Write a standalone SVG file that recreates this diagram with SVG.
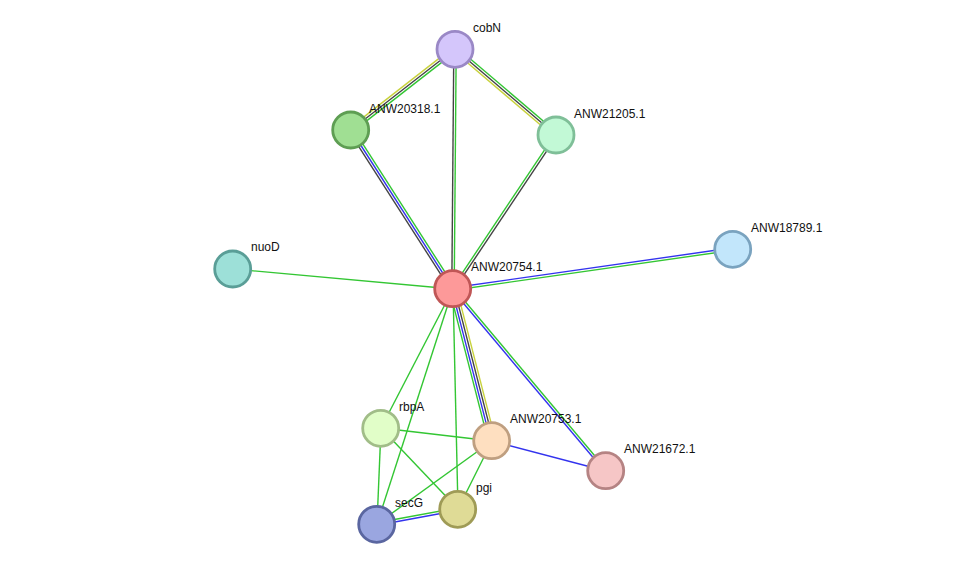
<svg xmlns="http://www.w3.org/2000/svg" width="975" height="570" viewBox="0 0 975 570">
<style>
.e{stroke-width:1.4;fill:none}
.g{stroke:#33c633}
.b{stroke:#3333ee}
.k{stroke:#444444}
.y{stroke:#c8d23c}
.n{stroke-width:2.8}
text{font-family:"Liberation Sans",Arial,sans-serif;font-size:12px;fill:#111}
</style>
<rect width="975" height="570" fill="#ffffff"/>
<g id="connectors">
<line class="e y" x1="453.5" y1="47.1" x2="349.5" y2="128.1"/>
<line class="e k" x1="455" y1="49" x2="351" y2="130"/>
<line class="e g" x1="456.5" y1="50.9" x2="352.5" y2="131.9"/>
<line class="e k" x1="453.8" y1="49" x2="451.8" y2="289"/>
<line class="e g" x1="456.2" y1="49" x2="454.2" y2="289"/>
<line class="e g" x1="456.6" y1="47.2" x2="557.6" y2="133.2"/>
<line class="e k" x1="455" y1="49" x2="556" y2="135"/>
<line class="e y" x1="453.4" y1="50.8" x2="554.4" y2="136.8"/>
<line class="e k" x1="349" y1="131.3" x2="451" y2="290.3"/>
<line class="e b" x1="351" y1="130" x2="453" y2="289"/>
<line class="e g" x1="353" y1="128.7" x2="455" y2="287.7"/>
<line class="e g" x1="555" y1="134.3" x2="452" y2="288.3"/>
<line class="e k" x1="557" y1="135.7" x2="454" y2="289.7"/>
<line class="e g" x1="233" y1="269" x2="453" y2="289"/>
<line class="e b" x1="732.8" y1="247.8" x2="452.8" y2="287.8"/>
<line class="e g" x1="733.2" y1="250.2" x2="453.2" y2="290.2"/>
<line class="e g" x1="449.5" y1="289.9" x2="488.5" y2="441.9"/>
<line class="e b" x1="451.8" y1="289.3" x2="490.8" y2="441.3"/>
<line class="e k" x1="454.2" y1="288.7" x2="493.2" y2="440.7"/>
<line class="e y" x1="456.5" y1="288.1" x2="495.5" y2="440.1"/>
<line class="e g" x1="453.9" y1="288.2" x2="606.9" y2="470.2"/>
<line class="e b" x1="452.1" y1="289.8" x2="605.1" y2="471.8"/>
<line class="e g" x1="381" y1="428" x2="453" y2="289"/>
<line class="e g" x1="377" y1="524" x2="453" y2="289"/>
<line class="e g" x1="458" y1="509" x2="453" y2="289"/>
<line class="e g" x1="381" y1="428" x2="492" y2="441"/>
<line class="e g" x1="381" y1="428" x2="377" y2="524"/>
<line class="e g" x1="381" y1="428" x2="458" y2="509"/>
<line class="e g" x1="492" y1="441" x2="377" y2="524"/>
<line class="e g" x1="492" y1="441" x2="458" y2="509"/>
<line class="e b" x1="492" y1="441" x2="606" y2="471"/>
<line class="e g" x1="376.8" y1="522.8" x2="457.8" y2="507.8"/>
<line class="e b" x1="377.2" y1="525.2" x2="458.2" y2="510.2"/>
</g>
<g id="cobN"><circle class="n" cx="455" cy="49.3" r="18" fill="#d4c6fb" stroke="#9a88c6"/><text x="473" y="32">cobN</text></g>
<g id="ANW20318.1"><circle class="n" cx="350.7" cy="130" r="18" fill="#a0df93" stroke="#5e9e53"/><text x="369" y="113">ANW20318.1</text></g>
<g id="ANW21205.1"><circle class="n" cx="556" cy="135" r="18" fill="#c2f9d6" stroke="#7fbf98"/><text x="574" y="118">ANW21205.1</text></g>
<g id="nuoD"><circle class="n" cx="232.7" cy="269" r="18" fill="#9de0d8" stroke="#5a9e97"/><text x="251" y="251">nuoD</text></g>
<g id="ANW20754.1"><circle class="n" cx="452.7" cy="288.7" r="18" fill="#fd9999" stroke="#c05656"/><text x="471" y="271">ANW20754.1</text></g>
<g id="ANW18789.1"><circle class="n" cx="732.7" cy="249.3" r="18" fill="#c2e6fb" stroke="#7aa3bf"/><text x="751" y="232">ANW18789.1</text></g>
<g id="rbpA"><circle class="n" cx="380.7" cy="428.3" r="18" fill="#e1fec8" stroke="#a1bd88"/><text x="399" y="411">rbpA</text></g>
<g id="ANW20753.1"><circle class="n" cx="491.7" cy="440.7" r="18" fill="#fedfc0" stroke="#bf9f80"/><text x="510" y="423">ANW20753.1</text></g>
<g id="ANW21672.1"><circle class="n" cx="605.7" cy="470.7" r="18" fill="#f6c6c6" stroke="#b58383"/><text x="624" y="453">ANW21672.1</text></g>
<g id="secG"><circle class="n" cx="376.7" cy="524.3" r="18" fill="#9aa6e0" stroke="#5a66a0"/><text x="395" y="507">secG</text></g>
<g id="pgi"><circle class="n" cx="457.7" cy="509.3" r="18" fill="#dfdb96" stroke="#9f9b56"/><text x="476" y="492">pgi</text></g>
</svg>
